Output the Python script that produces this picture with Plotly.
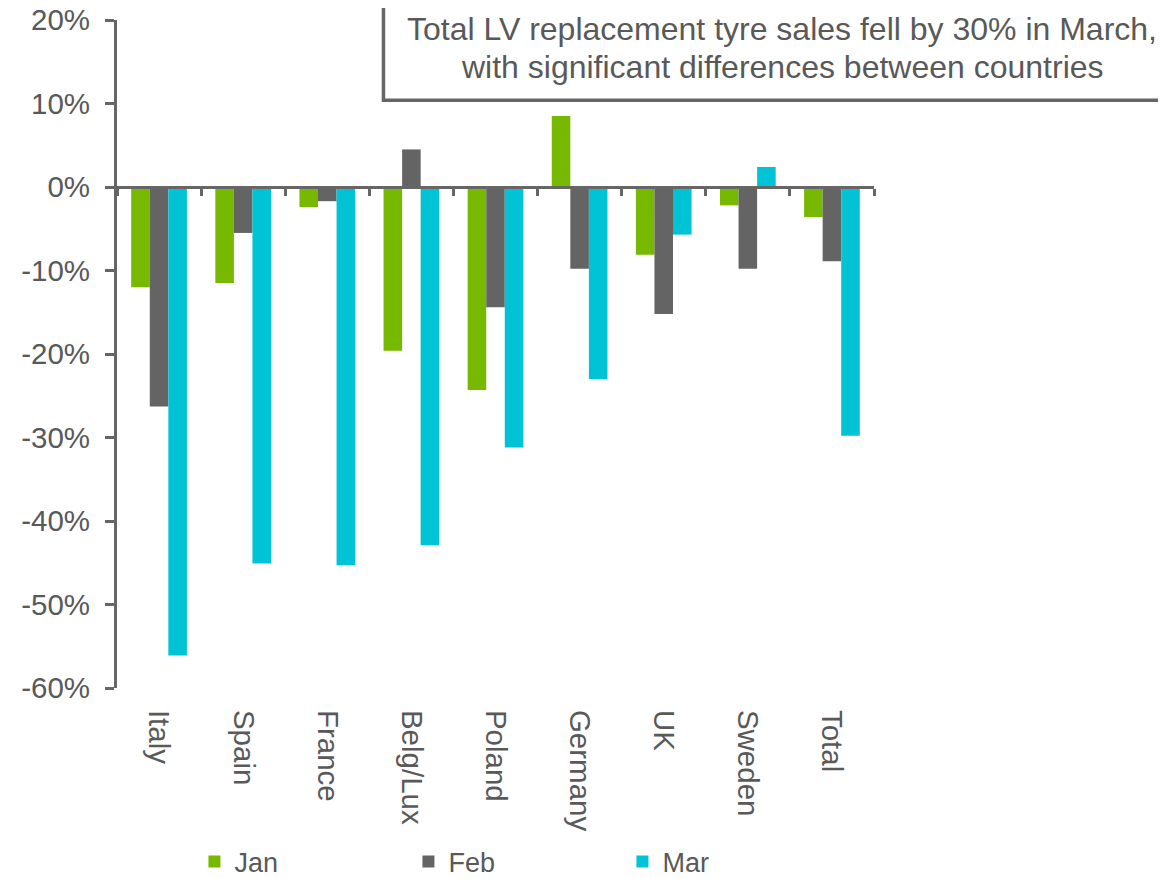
import plotly.graph_objects as go

categories = ["Italy", "Spain", "France", "Belg/Lux", "Poland", "Germany", "UK", "Sweden", "Total"]
jan = [-12.0, -11.5, -2.4, -19.6, -24.3, 8.5, -8.1, -2.2, -3.6]
feb = [-26.3, -5.5, -1.7, 4.5, -14.4, -9.8, -15.2, -9.8, -8.9]
mar = [-56.1, -45.1, -45.3, -42.9, -31.2, -23.0, -5.7, 2.4, -29.8]
y_ticks = [20, 10, 0, -10, -20, -30, -40, -50, -60]
y_tick_labels = ["20%", "10%", "0%", "-10%", "-20%", "-30%", "-40%", "-50%", "-60%"]
title_lines = ["Total LV replacement tyre sales fell by 30% in March,",
               "with significant differences between countries"]

FONT = "Liberation Sans, Arial, sans-serif"
TXT = "#595959"
AX = "#666666"

fig = go.Figure()
fig.add_trace(go.Bar(name="Jan", x=categories, y=jan, marker=dict(color="#76B900", line=dict(width=0))))
fig.add_trace(go.Bar(name="Feb", x=categories, y=feb, marker=dict(color="#646464", line=dict(width=0))))
fig.add_trace(go.Bar(name="Mar", x=categories, y=mar, marker=dict(color="#00C4D6", line=dict(width=0))))
# helper trace for the zero-line category axis (no visible marks)
fig.add_trace(go.Scatter(x=categories, y=[None] * len(categories), xaxis="x2", mode="markers",
                         showlegend=False, hoverinfo="skip"))

fig.update_layout(
    width=1158, height=871,
    margin=dict(l=109, r=292, t=12, b=191),
    paper_bgcolor="white", plot_bgcolor="white",
    barmode="group", bargap=0.338, bargroupgap=0,
    font=dict(family=FONT, color=TXT, size=27),
    showlegend=True,
    legend=dict(orientation="h", xref="container", yref="container",
                x=0.161, xanchor="left", y=0.0195, yanchor="middle",
                entrywidth=169, entrywidthmode="pixels", font=dict(size=27, color=TXT),
                bgcolor="rgba(0,0,0,0)", traceorder="normal"),
    xaxis=dict(type="category", categoryarray=categories, range=[-0.5, 8.5], automargin=False,
               showline=False, showgrid=False, zeroline=False,
               ticks="outside", ticklen=15, tickcolor="rgba(0,0,0,0)",
               tickangle=90, tickfont=dict(size=29.5, color=TXT), ticklabeloverflow="allow"),
    xaxis2=dict(type="category", categoryarray=categories, range=[-0.5, 8.5], automargin=False,
                overlaying="x", anchor="free", position=0.75, side="bottom",
                showline=True, linewidth=3, linecolor=AX, showgrid=False, zeroline=False,
                ticks="outside", ticklen=7, tickwidth=3, tickcolor=AX,
                tickson="boundaries", showticklabels=False),
    yaxis=dict(range=[-60, 20], tickvals=y_ticks, ticktext=y_tick_labels, automargin=False,
               showline=True, linewidth=3, linecolor=AX, showgrid=False, zeroline=False,
               ticks="outside", ticklen=9, tickwidth=3, tickcolor=AX, ticklabelstandoff=9,
               tickfont=dict(size=29.5, color=TXT), ticklabeloverflow="allow"),
)

# title box (partially clipped at the right/top edge as in the reference)
fig.add_shape(type="rect", xref="paper", yref="paper", x0=0.352, x1=1.45, y0=0.880, y1=1.1,
              line=dict(color=AX, width=3.5), fillcolor="white", layer="above")
for line_text, ypos in zip(title_lines, [0.986, 0.929]):
    fig.add_annotation(text=line_text, xref="paper", yref="paper", x=0.879, y=ypos,
                       xanchor="center", yanchor="middle", showarrow=False,
                       font=dict(size=32, color=TXT, family=FONT), align="center")

fig.write_html("out.html")
